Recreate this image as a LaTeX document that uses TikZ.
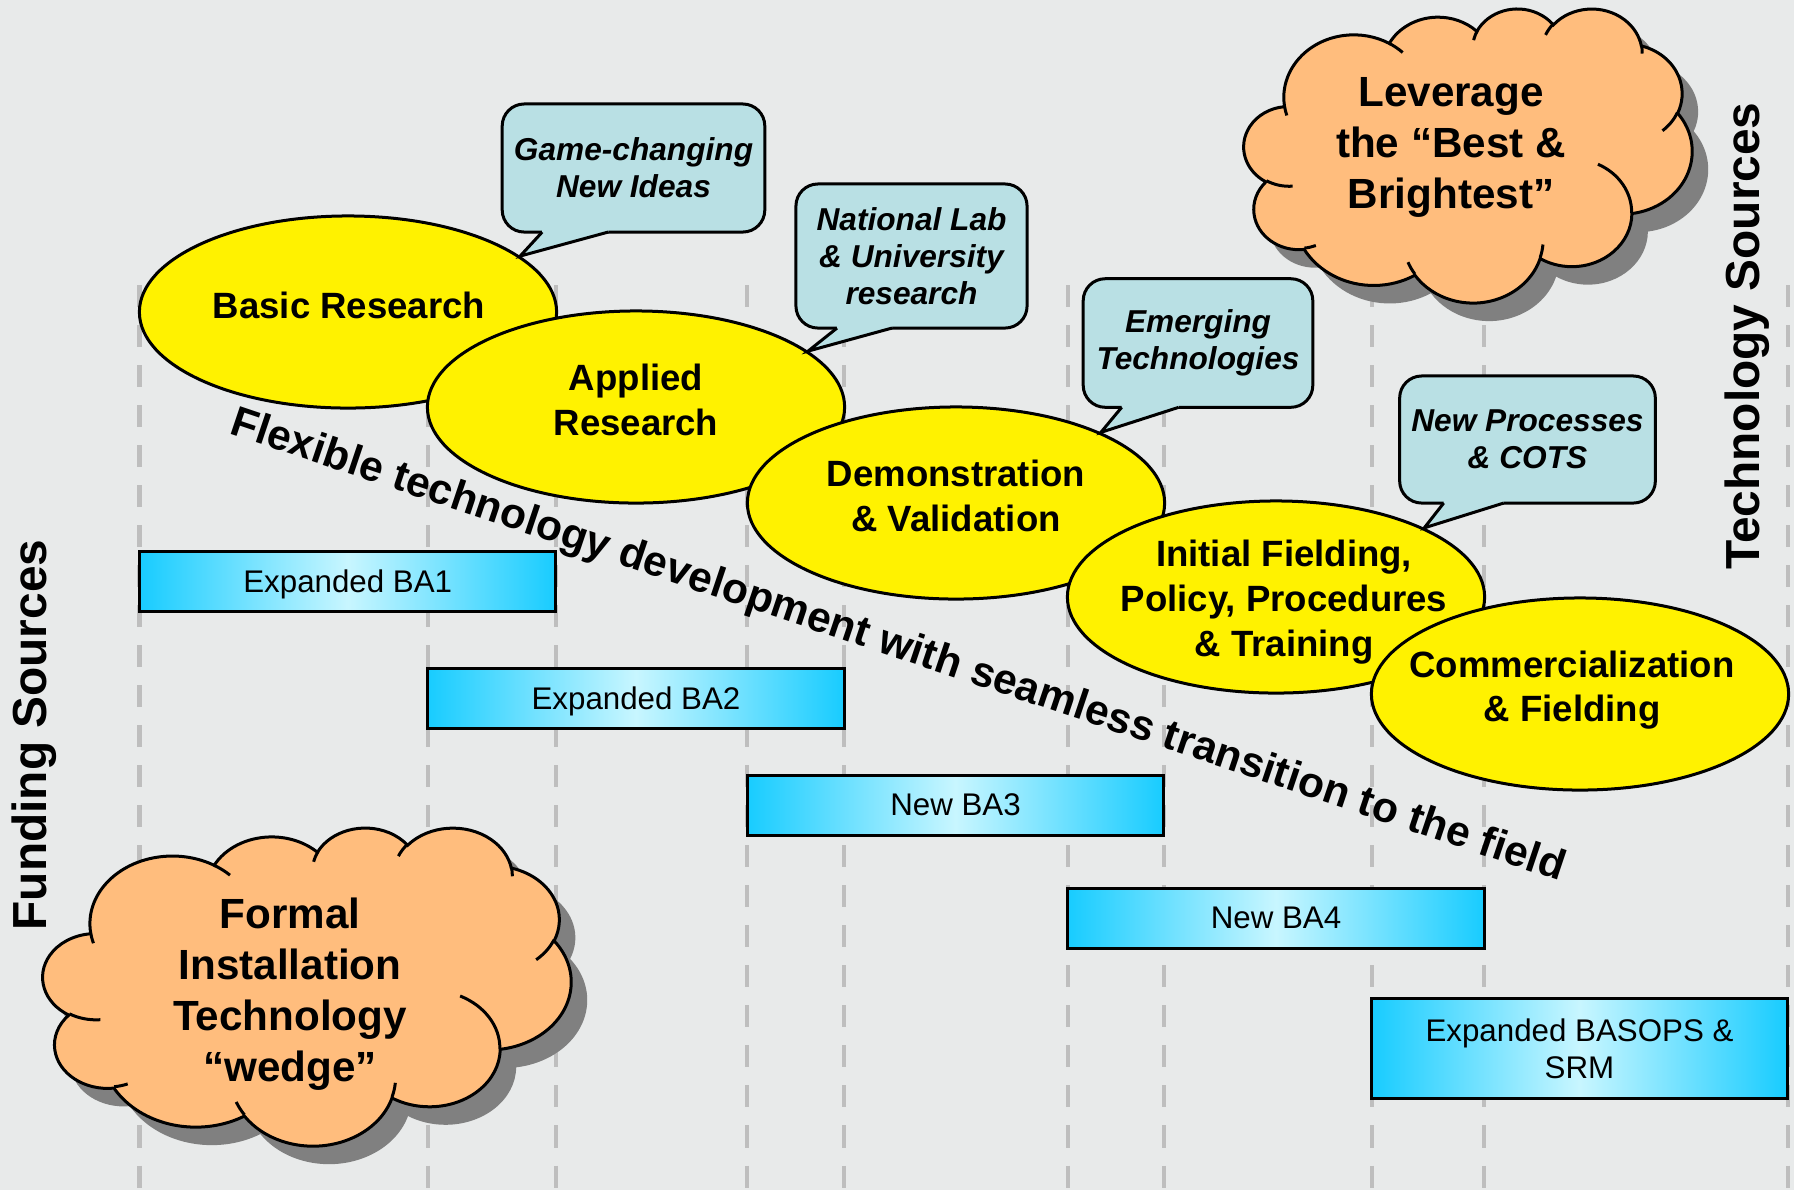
\documentclass[tikz,border=0pt]{standalone}
\usepackage{fontspec}
\setmainfont{Liberation Sans}
\usetikzlibrary{positioning}
\usetikzlibrary{shapes}
\usetikzlibrary{calc}

\definecolor{bggray}{RGB}{232,234,234}
\definecolor{dashgray}{RGB}{190,190,190}
\definecolor{calloutblue}{RGB}{185,224,228}
\definecolor{cloudorange}{RGB}{255,189,125}
\definecolor{shadowgray}{RGB}{128,128,128}
\definecolor{bacyan}{RGB}{24,204,255}
\definecolor{balight}{RGB}{200,246,255}

% one puff of the cloud outline (radii and angles as in the preset shape)
\newcommand\cloudarc[4]{arc[x radius={#1/432}, y radius={#2/432},
    start angle={atan2(#1*sin(#3),#2*cos(#3))},
    delta angle={mod(atan2(#1*sin(#3+#4),#2*cos(#3+#4))-atan2(#1*sin(#3),#2*cos(#3))+720,360)}]}

\newcommand\cloudoutline{(9.028,33.264)
    \cloudarc{6753}{9190}{-190.4875}{123.7805}
    \cloudarc{5333}{7267}{-144.1024}{89.9452}
    \cloudarc{4365}{5945}{-145.8079}{99.7230}
    \cloudarc{4857}{6595}{-130.9861}{117.2417}
    \cloudarc{5333}{7273}{-78.7089}{109.0269}
    \cloudarc{6775}{9220}{-46.2673}{130.2690}
    \cloudarc{5785}{7867}{0.6250}{114.0333}
    \cloudarc{6752}{9215}{22.4516}{115.1726}
    \cloudarc{7720}{10543}{66.2426}{75.7110}
    \cloudarc{4360}{5918}{-274.9421}{146.7356}
    \cloudarc{4345}{5945}{-246.8285}{152.5189} -- cycle}

\newcommand\cloudfolds{
    (10.863,60.595) \cloudarc{4345}{5945}{86.742}{26.430}
    (16.037,80.785) \cloudarc{4360}{5918}{73.610}{11.447}
    (38.144,90.486) \cloudarc{6752}{9215}{137.624}{14.081}
    (66.729,80.442) \cloudarc{6752}{9215}{6.453}{15.998}
    (79.002,53.134) \cloudarc{5785}{7867}{-70.292}{70.917}
    (96.755,35.542) \cloudarc{5333}{7273}{30.318}{27.752}
    (88.713,12.560) \cloudarc{4857}{6595}{-13.744}{14.859}
    (67.310,9.148) \cloudarc{4857}{6595}{-149.181}{18.195}
    (51.252,10.926) \cloudarc{4365}{5945}{-163.494}{17.686}
    (32.407,12.019) \cloudarc{6753}{9190}{-66.707}{12.319}
    (9.553,36.549) \cloudarc{6753}{9190}{157.654}{11.858}}

\begin{document}
\begin{tikzpicture}[x=0.01cm, y=-0.01cm,
    stage/.style={ellipse, draw, fill=yellow, line width=0.03cm, minimum width=4.17cm, minimum height=1.92cm},
    stagetext/.style={align=center, font=\bfseries\fontsize{10.4}{12.7}\selectfont},
    fund/.style={draw, line width=0.03cm, left color=bacyan, right color=bacyan, middle color=balight,
        minimum width=4.16cm, minimum height=0.6cm, inner sep=0pt, text depth=0pt, align=center, font=\fontsize{8.9}{10.7}\selectfont},
    note/.style={draw, fill=calloutblue, rounded corners=0.22cm, line width=0.03cm, outer sep=0pt,
        align=center, font=\bfseries\itshape\fontsize{9}{10.5}\selectfont},
    pointer/.style={line width=0.03cm, line join=miter},
    cloudtext/.style={align=center, font=\bfseries\fontsize{12}{14.5}\selectfont},
    side/.style={font=\bfseries\fontsize{13.6}{16}\selectfont}]
    \useasboundingbox (0,0) rectangle (1794,1190);
    \fill[bggray] (0,0) rectangle (1794,1190);

    % phase grid
    \foreach \x in {139.5,428,556,747,844,1068,1164,1372,1484,1788}
        \draw[dashgray, line width=0.045cm, dash pattern=on 0.22cm off 0.18cm] (\x,285) -- (\x,1190);

    % funding lines
    \node[fund] (ba1) at (347.75,581) {Expanded BA1};
    \node[fund] (ba2) at (636,698) {Expanded BA2};
    \node[fund] (ba3) at (955.5,805) {New BA3};
    \node[fund] (ba4) at (1276,918) {New BA4};
    \node[fund, minimum width=4.15cm, minimum height=0.99cm] (basops) at (1579.5,1048.5) {Expanded BASOPS \&\\SRM};

    % stages
    \node[stage] (basic) at (348,312) {};
    \node[stagetext] at (349,305) {Basic Research};
    \node[stage] (applied) at (636,407) {};
    \node[stagetext] at (636,400) {Applied\\Research};
    \node[stage] (demo) at (956,503) {};
    \node[stagetext] at (956,496) {Demonstration\\\& Validation};
    \node[stage] (init) at (1276,597) {};
    \node[stagetext] at (1284,602) {Initial Fielding,\\Policy, Procedures\\\& Training};
    \node[stage] (comm) at (1580,694) {};
    \node[stagetext] at (1572,690) {Commercialization\\\& Fielding};

    % callouts
    \node[note, minimum width=2.57cm, minimum height=1.28cm] (ideas) at (633.5,168) {Game-changing\\New Ideas};
    \fill[calloutblue] ([xshift=0.40cm,yshift=0.03cm]ideas.south west) -- ([xshift=0.40cm]ideas.south west) -- (basic.18)
        -- ([xshift=1.06cm]ideas.south west) -- ([xshift=1.06cm,yshift=0.03cm]ideas.south west) -- cycle;
    \draw[pointer] ([xshift=0.40cm]ideas.south west) -- (basic.18) -- ([xshift=1.06cm]ideas.south west);

    \node[note, minimum width=2.31cm, minimum height=1.44cm] (labs) at (911.5,256) {National Lab\\\& University\\research};
    \fill[calloutblue] ([xshift=0.41cm,yshift=0.03cm]labs.south west) -- ([xshift=0.41cm]labs.south west) -- (applied.18)
        -- ([xshift=0.96cm]labs.south west) -- ([xshift=0.96cm,yshift=0.03cm]labs.south west) -- cycle;
    \draw[pointer] ([xshift=0.41cm]labs.south west) -- (applied.18) -- ([xshift=0.96cm]labs.south west);

    \node[note, minimum width=2.295cm, minimum height=1.285cm] (emerging) at (1198,343) {Emerging\\Technologies};
    \fill[calloutblue] ([xshift=0.385cm,yshift=0.03cm]emerging.south west) -- ([xshift=0.385cm]emerging.south west) -- (demo.26)
        -- ([xshift=0.955cm]emerging.south west) -- ([xshift=0.955cm,yshift=0.03cm]emerging.south west) -- cycle;
    \draw[pointer] ([xshift=0.385cm]emerging.south west) -- (demo.26) -- ([xshift=0.955cm]emerging.south west);

    \node[note, minimum width=2.49cm, minimum height=1.27cm] (cots) at (1527.5,439.5) {New Processes\\\& COTS};
    \fill[calloutblue] ([xshift=0.44cm,yshift=0.03cm]cots.south west) -- ([xshift=0.44cm]cots.south west) -- (init.25)
        -- ([xshift=1.04cm]cots.south west) -- ([xshift=1.04cm,yshift=0.03cm]cots.south west) -- cycle;
    \draw[pointer] ([xshift=0.44cm]cots.south west) -- (init.25) -- ([xshift=1.04cm]cots.south west);

    % clouds
    \begin{scope}[shift={(1260,26)}, xscale=4.48, yscale=2.94]
        \fill[shadowgray] \cloudoutline;
    \end{scope}
    \begin{scope}[shift={(1244,8)}, xscale=4.48, yscale=2.94]
        \filldraw[fill=cloudorange, line width=0.03cm] \cloudoutline;
        \draw[line width=0.03cm] \cloudfolds;
    \end{scope}
    \node[cloudtext] (leverage) at (1451,147) {Leverage\\the “Best \&\\Brightest”};

    \begin{scope}[shift={(59,845)}, xscale=5.28, yscale=3.18]
        \fill[shadowgray] \cloudoutline;
    \end{scope}
    \begin{scope}[shift={(43,827)}, xscale=5.28, yscale=3.18]
        \filldraw[fill=cloudorange, line width=0.03cm] \cloudoutline;
        \draw[line width=0.03cm] \cloudfolds;
    \end{scope}
    \node[cloudtext] (wedge) at (290,994) {Formal\\Installation\\Technology\\“wedge”};

    % axis texts
    \node[side, rotate=90, anchor=base] (funding) at (46,735) {Funding Sources};
    \node[side, rotate=90, anchor=base] (techsrc) at (1759,336) {Technology Sources};
    \node[font=\bfseries\fontsize{12.1}{14}\selectfont, anchor=base west, rotate=-18.6, inner sep=0pt] (flow) at (228,433)
        {Flexible technology development with seamless transition to the field};
\end{tikzpicture}
\end{document}
